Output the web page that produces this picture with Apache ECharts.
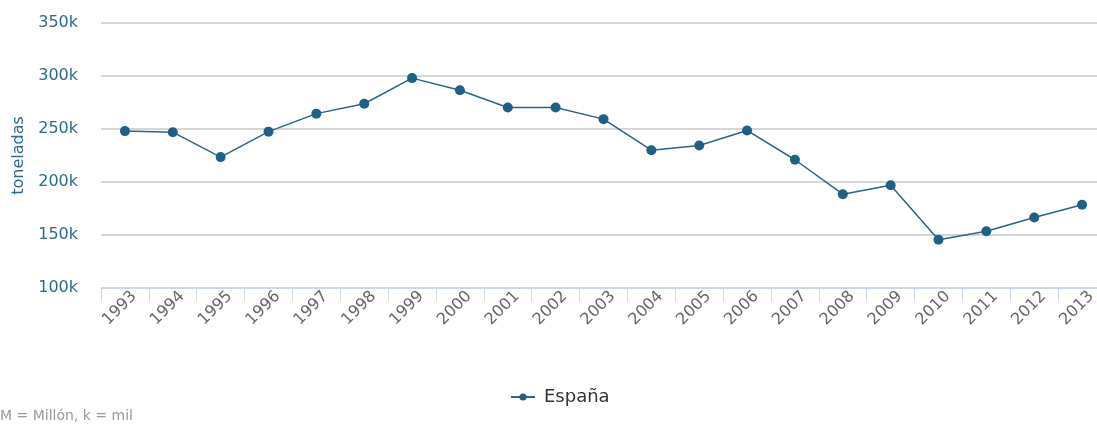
<!DOCTYPE html>
<html><head><meta charset="utf-8">
<script src="https://cdn.jsdelivr.net/npm/echarts@6/dist/echarts.min.js"></script>
<style>html,body{margin:0;padding:0;background:#fff;overflow:hidden}#c{width:1097px;height:424px}</style>
</head><body><div id="c"></div>
<script>
const categories = ['1993','1994','1995','1996','1997','1998','1999','2000','2001','2002','2003','2004','2005','2006','2007','2008','2009','2010','2011','2012','2013'];
const espana = [248000,247000,223500,247500,264500,273800,298000,286500,270300,270300,259300,230000,234500,248600,221000,188500,197000,145500,153500,166500,178500];
const yTicks = [100000,150000,200000,250000,300000,350000];

const chart = echarts.init(document.getElementById('c'));
chart.setOption({
  animation:false,
  grid:{left:101,right:-9,top:23,bottom:136,containLabel:false,outerBoundsMode:'none'},
  legend:{data:['España'],top:383,left:505,itemWidth:24,itemHeight:9,itemGap:10,
    textStyle:{fontSize:18,color:'#333',fontFamily:'DejaVu Sans',padding:[0,0,0,4]}},
  graphic:[{type:'text',left:0,top:409,style:{text:'M = Millón, k = mil',fill:'#999',fontSize:14,fontFamily:'DejaVu Sans'}}],
  xAxis:{type:'category',data:categories,boundaryGap:true,
    axisLine:{lineStyle:{color:'#ccd6eb'}},
    axisTick:{show:true,length:13,lineStyle:{color:'#ccd6eb'}},
    axisLabel:{rotate:45,color:'#666',fontSize:16,margin:15,padding:[0,-13,0,0],fontFamily:'DejaVu Sans'}},
  yAxis:{type:'value',min:yTicks[0],max:yTicks[yTicks.length-1],interval:50000,
    name:'toneladas',nameLocation:'middle',nameGap:74,
    nameTextStyle:{color:'#2a6a8a',fontSize:16,fontFamily:'DejaVu Sans'},
    axisLine:{show:false},axisTick:{show:false},
    splitLine:{lineStyle:{color:'#c8c8c8',width:1.5}},
    axisLabel:{color:'#2a6a8a',fontSize:16,margin:23,fontFamily:'DejaVu Sans',
      formatter:v=>(v/1000)+'k'}},
  series:[{name:'España',type:'line',data:espana,symbol:'circle',symbolSize:10,
    lineStyle:{color:'#2c6484',width:1.5},itemStyle:{color:'#1d6188'}}]
});
</script></body></html>
